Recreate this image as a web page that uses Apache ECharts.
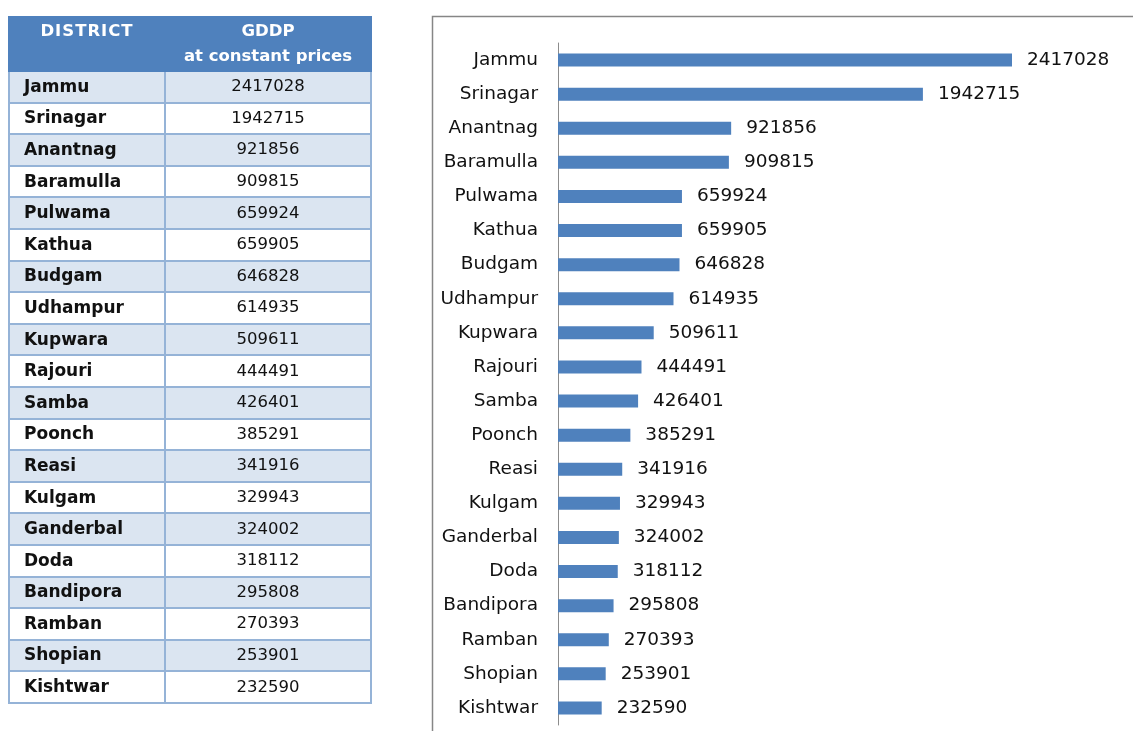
<!DOCTYPE html>
<html>
<head>
<meta charset="utf-8">
<script src="https://cdn.jsdelivr.net/npm/echarts@6/dist/echarts.min.js"></script>
<style>
    html, body { margin: 0; padding: 0; background: #fff; }
    #main { position: absolute; left: 0; top: 0; width: 1133px; height: 731px; }
    #tbl {
        position: absolute; left: 8px; top: 16px; width: 364px;
        border-collapse: collapse; font-family: "DejaVu Sans", sans-serif;
        z-index: 2;
    }
    #tbl td, #tbl th { border: 2px solid #95B3D7; padding: 0; }
    #tbl th {
        background: #4F81BD; color: #fff; font-weight: bold; font-size: 16.5px;
        height: 52px; vertical-align: top; border-color: #4F81BD; line-height: 25px;
    }
    #tbl td { height: 27.6px; padding-bottom: 2px; font-size: 16.5px; color: #111; }
    #tbl td.name { font-weight: bold; font-size: 17px; padding-left: 14px; width: 140px; }
    #tbl td.val { text-align: center; }
    #tbl tr.odd td { background: #DBE5F1; }
</style>
</head>
<body>
<div id="main"></div>
<table id="tbl">
    <thead>
        <tr><th style="letter-spacing:1px">DISTRICT</th><th>GDDP<br>at constant prices</th></tr>
    </thead>
    <tbody id="tbody"></tbody>
</table>
<script>
    var districts = ['Jammu', 'Srinagar', 'Anantnag', 'Baramulla', 'Pulwama', 'Kathua', 'Budgam',
        'Udhampur', 'Kupwara', 'Rajouri', 'Samba', 'Poonch', 'Reasi', 'Kulgam', 'Ganderbal',
        'Doda', 'Bandipora', 'Ramban', 'Shopian', 'Kishtwar'];
    var gddp = [2417028, 1942715, 921856, 909815, 659924, 659905, 646828, 614935, 509611, 444491,
        426401, 385291, 341916, 329943, 324002, 318112, 295808, 270393, 253901, 232590];

    // table on the left
    var html = '';
    for (var i = 0; i < districts.length; i++) {
        html += '<tr class="' + (i % 2 === 0 ? 'odd' : 'even') + '">' +
            '<td class="name">' + districts[i] + '</td>' +
            '<td class="val">' + gddp[i] + '</td></tr>';
    }
    document.getElementById('tbody').innerHTML = html;

    var chart = echarts.init(document.getElementById('main'));
    chart.setOption({
        animation: false,
        backgroundColor: '#fff',
        graphic: [{
            type: 'polyline',
            shape: { points: [[432.5, 731], [432.5, 16.5], [1133, 16.5]] },
            style: { stroke: '#868686', lineWidth: 1.5, fill: null }
        }],
        grid: {
            left: 558,
            right: 11.5,
            top: 43,
            bottom: 6
        },
        xAxis: {
            type: 'value',
            min: 0,
            max: 3000000,
            show: false
        },
        yAxis: {
            type: 'category',
            inverse: true,
            data: districts,
            axisLine: { show: true, lineStyle: { color: '#8c8c8c', width: 1 } },
            axisTick: { show: false },
            axisLabel: {
                margin: 20,
                fontFamily: 'DejaVu Sans',
                fontSize: 18.5,
                color: '#111'
            }
        },
        series: [{
            type: 'bar',
            data: gddp,
            barWidth: 13,
            itemStyle: { color: '#4F81BD' },
            label: {
                show: true,
                position: 'right',
                distance: 15,
                fontFamily: 'DejaVu Sans',
                fontSize: 18.5,
                color: '#111'
            }
        }]
    });
</script>
</body>
</html>
